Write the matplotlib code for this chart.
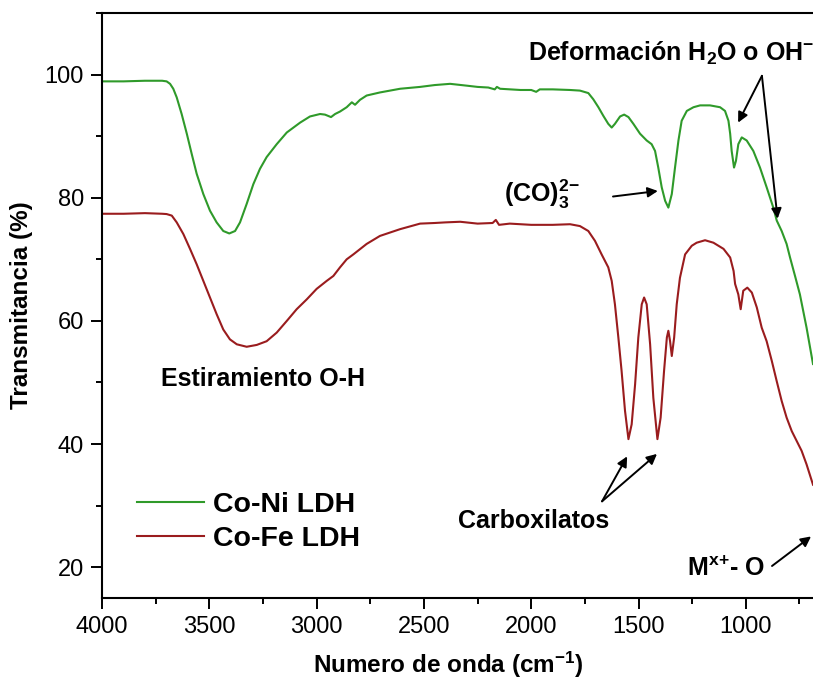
import matplotlib
matplotlib.use('Agg')
import matplotlib.pyplot as plt
from matplotlib.ticker import MultipleLocator

plt.rcParams['font.family'] = ['Liberation Sans', 'DejaVu Sans']
plt.rcParams['mathtext.fontset'] = 'custom'
plt.rcParams['mathtext.rm'] = 'Liberation Sans:bold'
plt.rcParams['mathtext.it'] = 'Liberation Sans:bold'
plt.rcParams['mathtext.bf'] = 'Liberation Sans:bold'

# Co-Ni LDH espectro FTIR (numero de onda, transmitancia)
wn_coni = [4000, 3900, 3800, 3720, 3699, 3683, 3668, 3652, 3629, 3605, 3582, 3559,
           3528, 3497, 3466, 3435, 3407, 3380, 3357, 3326, 3295, 3264, 3233, 3186,
           3139, 3077, 3031, 2984, 2961, 2933, 2914, 2891, 2860, 2836, 2821, 2798,
           2767, 2705, 2611, 2518, 2450, 2378, 2300, 2250, 2200, 2170, 2160, 2145,
           2050, 2000, 1977, 1960, 1900, 1819, 1773, 1734, 1711, 1687, 1664, 1641,
           1625, 1610, 1586, 1567, 1547, 1524, 1493, 1462, 1439, 1423, 1408, 1392,
           1376, 1361, 1345, 1330, 1314, 1299, 1275, 1244, 1213, 1167, 1120, 1097,
           1081, 1073, 1066, 1055, 1046, 1035, 1019, 996, 965, 934, 903, 872, 856,
           833, 810, 794, 770, 748, 717, 687]
t_coni = [98.9, 98.9, 99.0, 99.0, 98.9, 98.5, 97.7, 96.3, 93.6, 90.4, 87.1, 83.9,
          80.6, 77.9, 76.0, 74.6, 74.2, 74.6, 76.0, 79.0, 82.2, 84.7, 86.6, 88.7,
          90.6, 92.2, 93.2, 93.6, 93.5, 93.1, 93.6, 94.0, 94.7, 95.5, 95.1, 95.9,
          96.6, 97.1, 97.7, 98.0, 98.3, 98.5, 98.2, 98.0, 97.9, 97.6, 98.0, 97.7,
          97.5, 97.5, 97.2, 97.6, 97.6, 97.5, 97.4, 97.0, 96.0, 94.7, 93.3, 92.0,
          91.4, 92.0, 93.2, 93.5, 93.1, 92.0, 90.4, 89.3, 88.7, 87.6, 84.9, 81.7,
          79.5, 78.4, 80.6, 84.9, 89.3, 92.5, 94.1, 94.7, 95.0, 95.0, 94.7, 94.1,
          92.5, 90.4, 87.6, 84.9, 86.0, 88.7, 89.8, 89.3, 87.6, 84.9, 81.7, 78.4, 76.3,
          74.6, 72.5, 70.3, 67.2, 64.3, 58.9, 53.0]

# Co-Fe LDH espectro FTIR (numero de onda, transmitancia)
wn_cofe = [4000, 3900, 3800, 3720, 3699, 3675, 3652, 3621, 3590, 3559, 3528, 3497,
           3466, 3435, 3404, 3372, 3326, 3279, 3233, 3186, 3139, 3093, 3046, 3000,
           2953, 2922, 2891, 2860, 2829, 2767, 2705, 2611, 2518, 2450, 2400, 2331,
           2250, 2180, 2165, 2150, 2100, 2000, 1900, 1819, 1773, 1734, 1703, 1672,
           1641, 1625, 1610, 1594, 1579, 1563, 1547, 1532, 1516, 1501, 1485, 1474,
           1462, 1446, 1431, 1412, 1397, 1381, 1368, 1361, 1353, 1345, 1334, 1322,
           1307, 1283, 1252, 1229, 1190, 1151, 1104, 1073, 1057, 1050, 1035, 1024,
           1012, 993, 972, 949, 926, 903, 879, 856, 833, 810, 786, 763, 740, 717, 687]
t_cofe = [77.4, 77.4, 77.5, 77.4, 77.35, 77.1, 76.0, 74.1, 71.7, 69.2, 66.5, 63.8,
          61.1, 58.6, 57.0, 56.2, 55.8, 56.1, 56.7, 58.1, 60.0, 61.9, 63.5, 65.2,
          66.5, 67.3, 68.7, 70.0, 70.8, 72.5, 73.8, 74.9, 75.8, 75.9, 76.0, 76.1,
          75.8, 75.9, 76.4, 75.6, 75.8, 75.6, 75.6, 75.7, 75.4, 74.6, 73.0, 70.8,
          68.7, 66.5, 62.7, 57.3, 51.9, 45.4, 40.8, 43.2, 49.7, 57.3, 62.7, 63.8,
          62.7, 56.2, 47.5, 40.8, 44.3, 51.9, 57.3, 58.4, 56.7, 54.3, 57.3, 62.7,
          67.0, 70.8, 72.2, 72.7, 73.1, 72.7, 71.7, 70.3, 68.1, 66.0, 64.3, 61.9,
          64.9, 65.4, 64.6, 62.2, 58.9, 56.7, 53.5, 50.2, 47.0, 44.3, 42.1, 40.5,
          38.9, 36.7, 33.4]

labels = ["Co-Ni LDH", "Co-Fe LDH"]

fig = plt.figure(figsize=(8.13, 6.85), dpi=100)
ax = fig.add_axes([0.1255, 0.127, 0.8745, 0.854])

ax.plot(wn_coni, t_coni, color='#2f9a2a', lw=1.5, label=labels[0])
ax.plot(wn_cofe, t_cofe, color='#9a1c1e', lw=1.5, label=labels[1])

ax.set_xlim(4000, 687)
ax.set_ylim(15, 110)
ax.xaxis.set_major_locator(MultipleLocator(500))
ax.xaxis.set_minor_locator(MultipleLocator(250))
ax.yaxis.set_major_locator(MultipleLocator(20))
ax.yaxis.set_minor_locator(MultipleLocator(10))
ax.tick_params(which='major', direction='out', length=8, width=1.4, labelsize=17, pad=5)
ax.tick_params(which='minor', direction='out', length=4.5, width=1.4)
ax.spines['right'].set_visible(False)
for s in ['top', 'left', 'bottom']:
    ax.spines[s].set_linewidth(1.5)

ax.set_xlabel(r"Numero de onda (cm$^{\mathbf{-1}}$)", fontsize=17.5, fontweight='bold')
ax.set_ylabel("Transmitancia (%)", fontsize=17.5, fontweight='bold', labelpad=8)
ax.xaxis.set_label_coords(0.487, -0.088)

arrow = dict(arrowstyle='-|>', color='black', lw=1.4, mutation_scale=15, shrinkA=0, shrinkB=0)
txt = dict(fontsize=18, fontweight='bold')

ax.text(2015, 103.4, r"Deformación H$_\mathbf{2}$O o OH$^{\mathbf{-}}$", ha='left', va='center', **txt)
ax.annotate("", xy=(1036, 92.2), xytext=(925, 99.8), arrowprops=arrow)
ax.annotate("", xy=(852, 76.6), xytext=(925, 99.8), arrowprops=arrow)

ax.text(1775, 80.6, r"(CO)$_\mathbf{3}^{\mathbf{2}{-}}$", ha='right', va='center', **txt)
ax.annotate("", xy=(1410, 81.1), xytext=(1619, 80.2), arrowprops=arrow)

ax.text(3250, 50.6, "Estiramiento O-H", ha='center', va='center', **txt)

ax.text(1991, 27.5, "Carboxilatos", ha='center', va='center', **txt)
ax.annotate("", xy=(1553, 38.0), xytext=(1670, 30.7), arrowprops=arrow)
ax.annotate("", xy=(1414, 38.4), xytext=(1670, 30.7), arrowprops=arrow)

ax.text(1092, 19.7, r"M$^{\mathbf{x}}$$^{\mathbf{+}}$- O", ha='center', va='center', **txt)
ax.annotate("", xy=(696, 25.0), xytext=(878, 20.2), arrowprops=arrow)

ax.legend(loc='center left', bbox_to_anchor=(0.049, 0.13), frameon=False,
          prop={'weight': 'bold', 'size': 20.5}, handlelength=2.35,
          handletextpad=0.32, labelspacing=0.28, borderpad=0, borderaxespad=0)

fig.savefig('out.png', dpi=100)
